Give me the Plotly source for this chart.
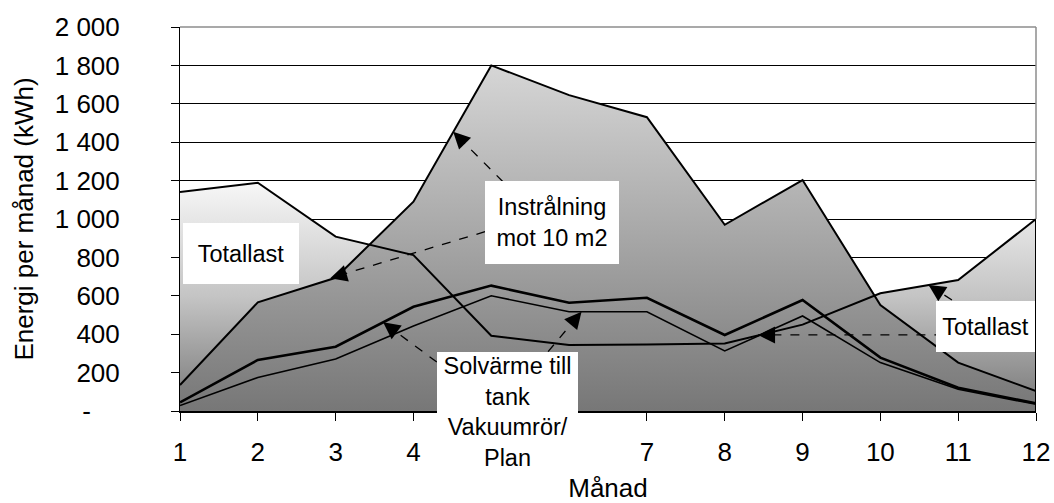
import math
import plotly.graph_objects as go

# ---------------- data ----------------
months = list(range(1, 13))
totallast = [1140, 1189, 908, 812, 392, 344, 347, 352, 450, 613, 682, 1000]
instralning = [135, 566, 694, 1090, 1800, 1645, 1530, 970, 1203, 552, 252, 104]
solvarme_vakuum = [45, 266, 335, 543, 653, 564, 590, 396, 578, 278, 121, 40]
solvarme_plan = [28, 175, 271, 443, 600, 517, 517, 313, 495, 252, 113, 35]

y_tick_vals = [0, 200, 400, 600, 800, 1000, 1200, 1400, 1600, 1800, 2000]
y_tick_text = ["-\u00a0\u00a0\u00a0\u00a0", "200", "400", "600", "800", "1\u00a0000",
               "1\u00a0200", "1\u00a0400", "1\u00a0600", "1\u00a0800", "2\u00a0000"]
# labels 5 and 6 are hidden behind the callout box in the original
x_tick_text = ["1", "2", "3", "4", "", "", "7", "8", "9", "10", "11", "12"]

FONT = "Liberation Sans, Arial, sans-serif"

# ---------------- layout geometry ----------------
W, H = 1054, 503
ML, MT = 180, 27
PW, PH = 856, 384
MR = W - ML - PW
MB = H - MT - PH
XR = (1, 12)
YR = (0, 2000)
PX_X = PW / (XR[1] - XR[0])
PX_Y = PH / (YR[1] - YR[0])

fig = go.Figure()

# Totallast area fill (back)
fig.add_trace(go.Scatter(
    x=months, y=totallast, mode="lines", fill="tozeroy",
    line=dict(width=0, color="rgba(0,0,0,0)"),
    fillgradient=dict(type="vertical", start=0, stop=max(totallast),
                      colorscale=[[0, "#777777"], [0.5, "#c4c4c4"], [1, "#f7f7f7"]]),
    hoverinfo="skip", showlegend=False, name="Totallast"))

# Instrålning area fill (front)
fig.add_trace(go.Scatter(
    x=months, y=instralning, mode="lines", fill="tozeroy",
    line=dict(width=2, color="black"),
    fillgradient=dict(type="vertical", start=0, stop=max(instralning),
                      colorscale=[[0, "#777777"], [1, "#d6d6d6"]]),
    showlegend=False, name="Instrålning mot 10 m2"))

# Totallast outline
fig.add_trace(go.Scatter(x=months, y=totallast, mode="lines",
                         line=dict(width=2, color="black"),
                         showlegend=False, name="Totallast"))

# Solar heat lines
fig.add_trace(go.Scatter(x=months, y=solvarme_vakuum, mode="lines",
                         line=dict(width=2.6, color="black"),
                         showlegend=False, name="Solvärme Vakuumrör"))
fig.add_trace(go.Scatter(x=months, y=solvarme_plan, mode="lines",
                         line=dict(width=1.6, color="black"),
                         showlegend=False, name="Solvärme Plan"))

# right edge of the Totallast area
fig.add_shape(type="line", xref="x", yref="y", x0=months[-1], x1=months[-1],
              y0=0, y1=totallast[-1], line=dict(color="black", width=2), layer="above")
# plot border top / right (gray)
fig.add_shape(type="line", xref="paper", yref="paper", x0=0, x1=1, y0=1, y1=1,
              line=dict(color="#8c8c8c", width=1.5), layer="above")
fig.add_shape(type="line", xref="paper", yref="paper", x0=1, x1=1,
              y0=totallast[-1] / YR[1], y1=1,
              line=dict(color="#8c8c8c", width=1.5), layer="above")

# dashed callout arrows: (tail_x, tail_y, tip_x, tip_y) in data coords
arrows = [
    (5.15, 1194, 4.51, 1455),
    (4.92, 934, 2.93, 692),
    (4.30, 255, 3.61, 462),
    (5.73, 309, 6.16, 517),
    (10.81, 396, 8.43, 396),
    (10.92, 578, 10.62, 656),
]
for tx, ty, hx, hy in arrows:
    fig.add_shape(type="line", xref="x", yref="y", x0=tx, y0=ty, x1=hx, y1=hy,
                  line=dict(color="black", width=1.3, dash="dash"), layer="above")
    dx = (tx - hx) * PX_X
    dy = -(ty - hy) * PX_Y
    L = math.hypot(dx, dy)
    fig.add_annotation(x=hx, y=hy, xref="x", yref="y", text="",
                       showarrow=True, arrowhead=2, arrowsize=2.6, arrowwidth=1.3,
                       arrowcolor="black", standoff=0,
                       ax=dx / L * 13, ay=dy / L * 13)

# text boxes (reference pixel positions converted to paper)
def px(xp):
    return (xp - ML) / PW

def py(yp):
    return (MT + PH - yp) / PH

boxes = [
    ("Totallast", 241, 253.5, 116, 61),
    ("Instrålning<br>mot 10 m2", 552, 222.5, 134, 83),
    ("Solvärme till<br>tank<br>Vakuumrör/<br>Plan", 507.5, 412, 141, 120),
    ("Totallast", 985.5, 326.5, 99, 51),
]
for txt, cx, cy, bw, bh in boxes:
    fig.add_annotation(x=px(cx), y=py(cy), xref="paper", yref="paper",
                       text=txt, showarrow=False, bgcolor="white",
                       width=bw, height=bh, borderpad=0, borderwidth=0,
                       align="center", valign="middle",
                       font=dict(family=FONT, size=23.5, color="black"),
                       xanchor="center", yanchor="middle")

fig.update_layout(
    width=W, height=H,
    margin=dict(l=ML, r=MR, t=MT, b=MB, autoexpand=False),
    paper_bgcolor="white", plot_bgcolor="white",
    font=dict(family=FONT, size=26, color="black"),
    showlegend=False,
    xaxis=dict(range=list(XR), tickvals=months, ticktext=x_tick_text,
               showgrid=False, zeroline=False, showline=True,
               linecolor="black", linewidth=2, ticks="outside", ticklen=8,
               tickcolor="black", tickwidth=1, ticklabelstandoff=9,
               tickfont=dict(size=26),
               title=dict(text="Månad", font=dict(size=26), standoff=17)),
    yaxis=dict(range=list(YR), tickvals=y_tick_vals, ticktext=y_tick_text,
               showgrid=True, gridcolor="black", gridwidth=1, zeroline=False,
               showline=True, linecolor="black", linewidth=1,
               ticks="outside", ticklen=8, tickcolor="black", tickwidth=1,
               ticklabelstandoff=46, tickfont=dict(size=26),
               title=dict(text="Energi per månad (kWh)", font=dict(size=26), standoff=13)),
)

fig.write_html(
    "out.html",
    config={"displayModeBar": False},
    post_script="document.body.style.margin='0';document.body.style.overflow='hidden';",
)
